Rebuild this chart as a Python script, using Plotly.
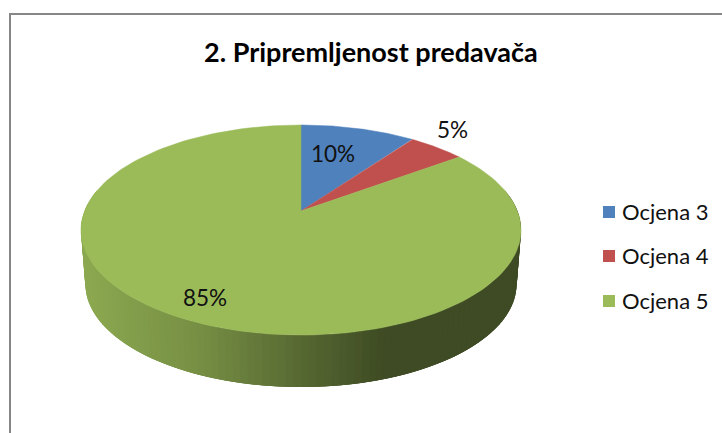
import numpy as np
import plotly.graph_objects as go

title = "2. Pripremljenost predavača"
categories = ["Ocjena 3", "Ocjena 4", "Ocjena 5"]
values = [10, 5, 85]
labels = ["10%", "5%", "85%"]
colors = [(79, 129, 189), (192, 80, 77), (155, 187, 89)]

CX, CY = 301.0, 211.0
A, B, K = 216.4, 101.6, 0.181
DEPTH, SHRINK = 54.5, 0.98
W, H = 722, 433


def rim(theta, scale=1.0, shift=0.0):
    u, v = np.sin(theta), np.cos(theta)
    d = 1 + K * v
    return CX + scale * A * u / d, CY - scale * B * v / d + shift


def rgb(c, f=1.0):
    return "rgb(%d,%d,%d)" % tuple(round(x * f) for x in c)


def side_factor(x):
    return float(np.interp(x, [85, 200, 300, 385], [0.90, 0.76, 0.56, 0.40]))


fractions = np.array(values, dtype=float) / sum(values)
edges = np.concatenate([[0.0], np.cumsum(fractions)]) * 2 * np.pi

fig = go.Figure()

# extruded side, shaded left to right; each strip overlaps its neighbour
steps = np.radians(np.linspace(78, 282, 121))
for t0, t1 in zip(steps[:-1], steps[1:]):
    idx = int(np.searchsorted(edges, (t0 + t1) / 2)) - 1
    t2 = min(t1 + (t1 - t0) * 2, steps[-1])
    x0, y0 = rim(t0)
    x1, y1 = rim(t2)
    x2, y2 = rim(t2, SHRINK, DEPTH)
    x3, y3 = rim(t0, SHRINK, DEPTH)
    col = rgb(colors[idx], side_factor((x0 + rim(t1)[0]) / 2))
    fig.add_trace(go.Scatter(x=[x0, x1, x2, x3, x0], y=[y0, y1, y2, y3, y0], mode="lines",
                             fill="toself", fillcolor=col, line=dict(color=col, width=0),
                             hoverinfo="skip", showlegend=False))

# top faces
for i, c in enumerate(colors):
    th = np.linspace(edges[i], edges[i + 1], 160)
    xs, ys = rim(th)
    fig.add_trace(go.Scatter(x=np.r_[CX, xs, CX], y=np.r_[CY, ys, CY], mode="lines", fill="toself",
                             fillcolor=rgb(c), line=dict(color=rgb(c), width=0.5),
                             name=categories[i], hoverinfo="skip", showlegend=False))

# frame
fig.add_shape(type="line", x0=10, x1=10, y0=14, y1=H, line=dict(color="#868686", width=2))
fig.add_shape(type="line", x0=9, x1=W, y0=14, y1=14, line=dict(color="#868686", width=2))

FONT = "Lato, Carlito, sans-serif"
fig.add_annotation(x=371, y=51.5, text="<b>%s</b>" % title, showarrow=False,
                   font=dict(family=FONT, size=27, color="black"))
for txt, px, py in zip(labels, [333, 452, 205], [153, 129, 297]):
    fig.add_annotation(x=px, y=py, text=txt, showarrow=False,
                       font=dict(family=FONT, size=22.5, color="#111"))

# legend
for cat, c, py in zip(categories, colors, [212, 256, 301]):
    fig.add_trace(go.Scatter(x=[609], y=[py], mode="markers",
                             marker=dict(symbol="square", size=12, color=rgb(c)),
                             hoverinfo="skip", showlegend=False))
    fig.add_annotation(x=620, y=py - 1, text=cat, showarrow=False, xanchor="left",
                       font=dict(family=FONT, size=22, color="#111"))

fig.update_layout(
    width=W, height=H, margin=dict(l=0, r=0, t=0, b=0),
    paper_bgcolor="white", plot_bgcolor="white", showlegend=False,
    xaxis=dict(range=[0, W], visible=False, fixedrange=True),
    yaxis=dict(range=[H, 0], visible=False, fixedrange=True),
)
fig.write_html("out.html", config=dict(displayModeBar=False),
               post_script="document.body.style.margin='0';document.documentElement.style.overflow='hidden';")
